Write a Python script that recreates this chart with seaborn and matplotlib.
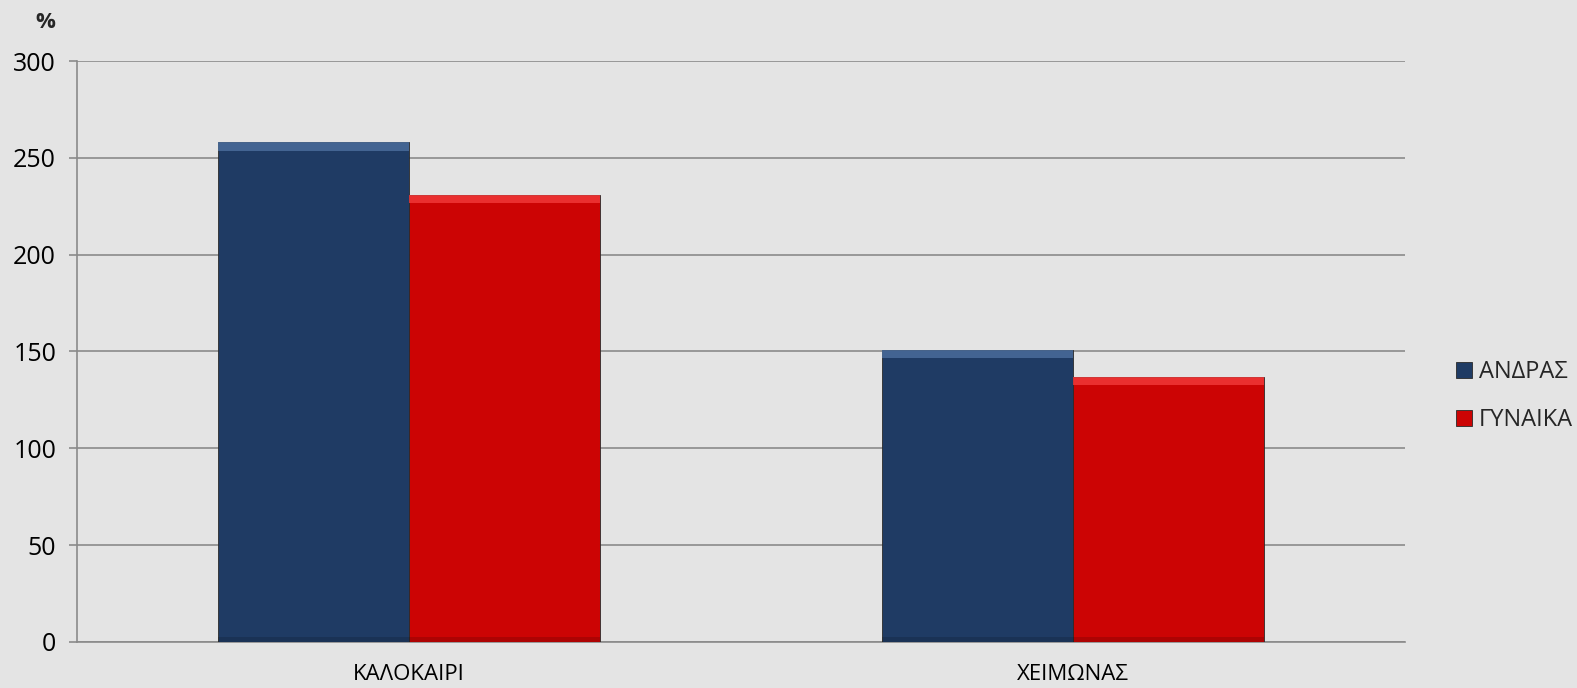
import pandas as pd
import seaborn as sns
import matplotlib.pyplot as plt
from matplotlib.patches import Rectangle

# data
seasons = ['ΚΑΛΟΚΑΙΡΙ', 'ΧΕΙΜΩΝΑΣ']
men = [258, 151]
women = [231, 137]
series = ['ΑΝΔΡΑΣ', 'ΓΥΝΑΙΚΑ']
colors = ['#1f3b64', '#cc0404']
light = ['#4d6f9e', '#f23a3a']

df = pd.DataFrame({
    'season': seasons * 2,
    'value': men + women,
    'who': [series[0]] * len(seasons) + [series[1]] * len(seasons),
})

sns.set_style('white')
plt.rcParams['font.family'] = ['Open Sans', 'DejaVu Sans']

bg = '#e4e4e4'
fig = plt.figure(figsize=(15.77, 6.88), dpi=100, facecolor=bg)
ax = fig.add_axes([0.0488, 0.0669, 0.8422, 0.8444])
ax.set_facecolor(bg)

sns.barplot(data=df, x='season', y='value', hue='who', palette=colors,
            width=0.575, saturation=1, ax=ax, zorder=3,
            edgecolor='#2a2a2a', linewidth=0.6)

# bevel: lighter band along the top of each bar, darker at the base
for cont, lc in zip(ax.containers, light):
    for p in cont.patches:
        x, w, h = p.get_x(), p.get_width(), p.get_height()
        ax.add_patch(Rectangle((x, h - 4.5), w, 4.5, facecolor=lc,
                               edgecolor='none', zorder=4, alpha=0.8))
        ax.add_patch(Rectangle((x, 0), w, 2.5, facecolor='black',
                               edgecolor='none', zorder=4, alpha=0.15))

ax.set_ylim(0, 300)
ax.set_xlim(-0.5, 1.5)
ax.set_yticks(range(0, 301, 50))
ax.yaxis.grid(True, color='#8a8a8a', linewidth=1.2, zorder=0)
ax.set_axisbelow(True)
ax.set_xlabel('')
ax.set_ylabel('')
for s in ['top', 'right']:
    ax.spines[s].set_visible(False)
for s in ['left', 'bottom']:
    ax.spines[s].set_color('#8a8a8a')
    ax.spines[s].set_linewidth(1.2)
ax.tick_params(axis='y', left=True, length=6, width=1.2, color='#8a8a8a',
               labelsize=18, pad=9, labelcolor='black')
ax.tick_params(axis='x', bottom=False, labelsize=16, pad=12, labelcolor='black')

fig.text(0.029, 0.968, '%', fontsize=16, fontweight='bold', ha='center', va='center')

leg = ax.legend(loc='center left', bbox_to_anchor=(1.022, 0.423), frameon=False,
                fontsize=17, handlelength=0.7, handleheight=0.7,
                handletextpad=0.3, labelspacing=1.0)

fig.savefig('out.png', dpi=100, facecolor=bg)
